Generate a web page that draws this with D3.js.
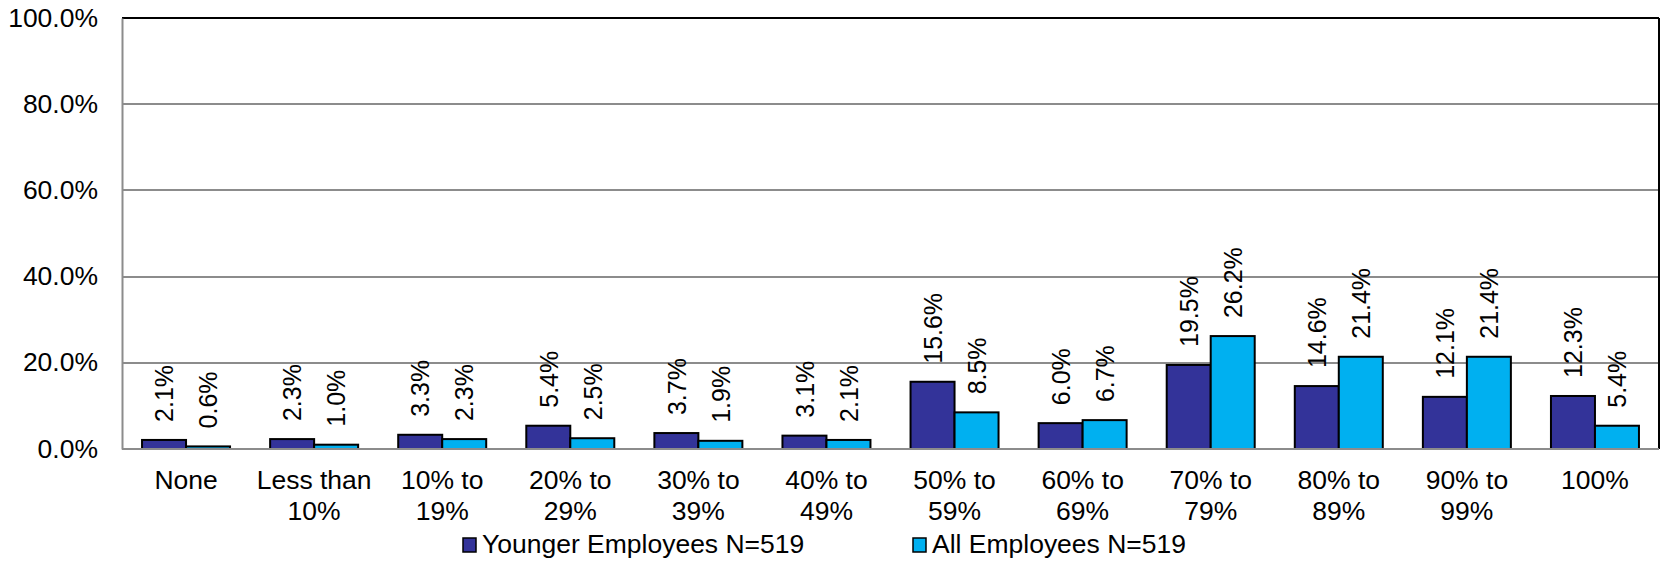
<!DOCTYPE html>
<html>
<head>
<meta charset="utf-8">
<title>Younger vs all employees</title>
<style>
	body { margin: 0; background: #fff; }
	svg text { font-family: "Liberation Sans", Arial, sans-serif; font-size: 25px; fill: #000; }
	.grid line { stroke: #8c8c8c; stroke-width: 2; shape-rendering: crispEdges; }
	.bar { stroke: #000; stroke-width: 2; }
</style>
<script src="https://d3js.org/d3.v7.min.js"></script>
</head>
<body>
<svg class="chart"></svg>
<script>
	var categories = ["None", "Less than\n10%", "10% to\n19%", "20% to\n29%", "30% to\n39%", "40% to\n49%",
		"50% to\n59%", "60% to\n69%", "70% to\n79%", "80% to\n89%", "90% to\n99%", "100%"];
	var younger = [2.1, 2.3, 3.3, 5.4, 3.7, 3.1, 15.6, 6.0, 19.5, 14.6, 12.1, 12.3];
	var allEmp = [0.6, 1.0, 2.3, 2.5, 1.9, 2.1, 8.5, 6.7, 26.2, 21.4, 21.4, 5.4];
	var seriesNames = ["Younger Employees N=519", "All Employees N=519"];
	var yTicks = [0, 20, 40, 60, 80, 100];

	var colors = ["#333399", "#00b0f0"];
	var W = 1662, H = 563;
	var sx = 1.06; // text in the original is a little wider than plain Arial
	var margin = {top: 18, right: 3, bottom: 114, left: 122};
	var width = W - margin.left - margin.right,
		height = H - margin.top - margin.bottom;

	var svg = d3.select(".chart").attr("width", W).attr("height", H);
	var main = svg.append("g").attr("transform", "translate(" + margin.left + "," + margin.top + ")");

	var x = d3.scaleBand().domain(d3.range(categories.length)).range([0, width]);
	// pair of bars 88px wide, centred in each band
	var xs = d3.scaleBand().domain([0, 1])
		.range([(x.bandwidth() - 88) / 2, (x.bandwidth() + 88) / 2]);
	var y = d3.scaleLinear().domain([0, 100]).range([height, 0]);

	// gridlines
	main.append("g").attr("class", "grid")
		.selectAll("line").data(yTicks.slice(1, -1)).enter().append("line")
		.attr("x1", 0).attr("x2", width)
		.attr("y1", function (d) { return y(d); }).attr("y2", function (d) { return y(d); });

	// frame: top and right black
	main.append("line").attr("x1", 0).attr("x2", width).attr("y1", 0).attr("y2", 0)
		.attr("stroke", "#000").attr("stroke-width", 2);
	main.append("line").attr("x1", width).attr("x2", width).attr("y1", 0).attr("y2", height)
		.attr("stroke", "#000").attr("stroke-width", 2);

	var yAxis = d3.axisLeft(y).tickValues(yTicks).tickSize(0).tickPadding(24)
		.tickFormat(function (d) { return d.toFixed(1) + "%"; });
	var ya = main.append("g").call(yAxis);
	ya.select(".domain").attr("stroke", "#8c8c8c").attr("stroke-width", 2);
	ya.selectAll("text").style("font-size", "25px").attr("fill", "#000")
		.attr("x", -24 / sx).attr("transform", "scale(" + sx + ",1)");

	var data = [younger, allEmp];
	var groups = main.selectAll(".cat").data(categories).enter().append("g")
		.attr("class", "cat")
		.attr("transform", function (d, i) { return "translate(" + x(i) + ",0)"; });

	[0, 1].forEach(function (s) {
		groups.append("rect")
			.attr("class", "bar")
			.attr("x", xs(s))
			.attr("width", xs.bandwidth())
			.attr("y", function (d, i) { return y(data[s][i]); })
			.attr("height", function (d, i) { return height - y(data[s][i]); })
			.attr("fill", colors[s]);
		groups.append("text")
			.attr("transform", function (d, i) {
				return "translate(" + (xs(s) + xs.bandwidth() / 2) + "," + (y(data[s][i]) - 18) + ") rotate(-90) scale(1," + sx + ")";
			})
			.attr("dy", "0.35em")
			.text(function (d, i) { return data[s][i].toFixed(1) + "%"; });
	});

	// bottom axis line
	main.append("line").attr("x1", 0).attr("x2", width).attr("y1", height).attr("y2", height)
		.attr("stroke", "#8c8c8c").attr("stroke-width", 2);

	// category labels
	groups.append("text")
		.attr("transform", "translate(" + (x.bandwidth() / 2) + "," + (height + 40) + ") scale(" + sx + ",1)")
		.attr("text-anchor", "middle")
		.selectAll("tspan").data(function (d) { return d.split("\n"); }).enter().append("tspan")
		.attr("x", 0)
		.attr("dy", function (d, i) { return i ? 31 : 0; })
		.text(function (d) { return d; });

	// legend
	var legendX = [463, 913];
	var legend = svg.selectAll(".legend").data(seriesNames).enter().append("g")
		.attr("class", "legend")
		.attr("transform", function (d, i) { return "translate(" + legendX[i] + ",538)"; });
	legend.append("rect")
		.attr("width", 13).attr("height", 14)
		.attr("fill", function (d, i) { return colors[i]; })
		.attr("stroke", "#000").attr("stroke-width", 1.5);
	legend.append("text")
		.attr("transform", "translate(19,15) scale(" + sx + ",1)")
		.text(function (d) { return d; });
</script>
</body>
</html>
